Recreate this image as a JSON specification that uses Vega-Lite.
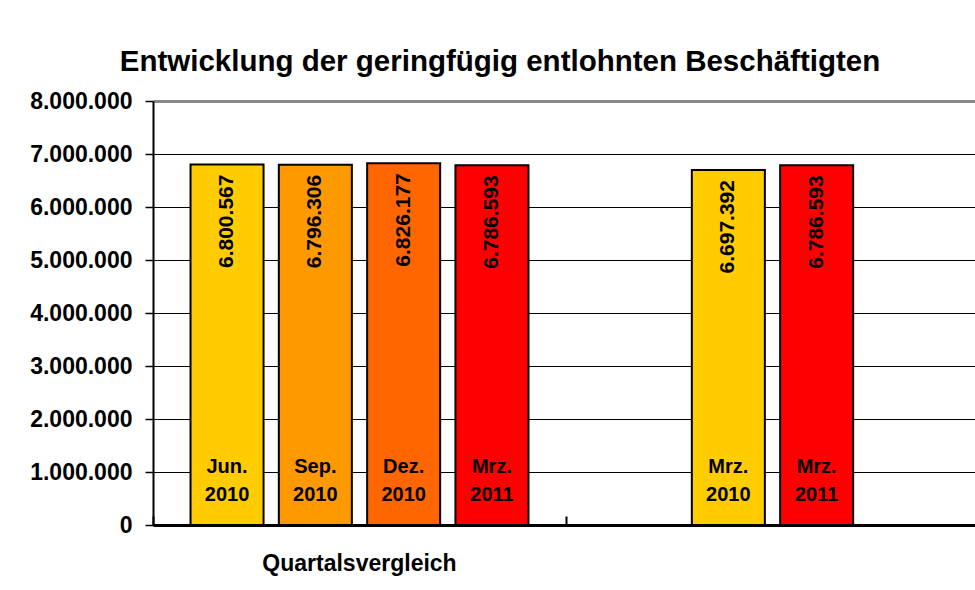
{
  "$schema": "https://vega.github.io/schema/vega-lite/v6.json",
  "autosize": "none",
  "padding": {"left": 153, "top": 101, "right": 0, "bottom": 65},
  "width": 826,
  "height": 424,
  "background": "white",
  "title": {
    "text": "Entwicklung der geringfügig entlohnten Beschäftigten",
    "fontSize": 29.5,
    "fontWeight": "bold",
    "font": "Liberation Sans",
    "color": "black",
    "anchor": "middle",
    "dx": -66,
    "offset": 13
  },
  "data": {
    "values": [
      {"gruppe": "Quartalsvergleich", "serie": "1", "zeitpunkt": "Jun. 2010", "wert": 6800567},
      {"gruppe": "Quartalsvergleich", "serie": "2", "zeitpunkt": "Sep. 2010", "wert": 6796306},
      {"gruppe": "Quartalsvergleich", "serie": "3", "zeitpunkt": "Dez. 2010", "wert": 6826177},
      {"gruppe": "Quartalsvergleich", "serie": "4", "zeitpunkt": "Mrz. 2011", "wert": 6786593},
      {"gruppe": "Vorjahresvergleich", "serie": "2", "zeitpunkt": "Mrz. 2010", "wert": 6697392},
      {"gruppe": "Vorjahresvergleich", "serie": "3", "zeitpunkt": "Mrz. 2011", "wert": 6786593}
    ]
  },
  "encoding": {
    "x": {
      "field": "gruppe",
      "type": "nominal",
      "sort": null,
      "scale": {"paddingInner": 0, "paddingOuter": 0},
      "axis": {
        "title": null,
        "labelExpr": "datum.value == 'Quartalsvergleich' ? datum.value : ''",
        "labelLimit": 0,
        "bandPosition": 0,
        "tickSize": -9,
        "tickColor": "black",
        "tickWidth": 2,
        "domainColor": "black",
        "domainWidth": 3,
        "labelFontSize": 23,
        "labelFontWeight": "bold",
        "labelPadding": 36,
        "labelAngle": 0,
        "grid": false
      }
    },
    "xOffset": {
      "field": "serie",
      "type": "nominal",
      "scale": {"domain": ["1", "2", "3", "4"], "paddingInner": 0.173, "paddingOuter": 0.425}
    }
  },
  "layer": [
    {
      "mark": {"type": "bar", "stroke": "black", "strokeWidth": 2},
      "encoding": {
        "y": {
          "field": "wert",
          "type": "quantitative",
          "scale": {"domain": [0, 8000000]},
          "axis": {
            "title": null,
            "values": [0, 1000000, 2000000, 3000000, 4000000, 5000000, 6000000, 7000000, 8000000],
            "format": ",d",
            "tickSize": 8,
            "tickColor": "black",
            "tickWidth": 1.5,
            "domainColor": "black",
            "domainWidth": 2,
            "labelFontSize": 23,
            "labelFontWeight": "bold",
            "labelPadding": 13,
            "grid": true,
            "gridColor": {"condition": {"test": "datum.value == 8000000", "value": "#888888"}, "value": "black"},
            "gridWidth": {"condition": {"test": "datum.value == 8000000", "value": 3}, "value": 1}
          }
        },
        "color": {
          "field": "zeitpunkt",
          "type": "nominal",
          "legend": null,
          "scale": {
            "domain": ["Jun. 2010", "Sep. 2010", "Dez. 2010", "Mrz. 2011", "Mrz. 2010"],
            "range": ["#FFCC00", "#FF9900", "#FF6600", "#FF0000", "#FFCC00"]
          }
        }
      }
    },
    {
      "mark": {"type": "text", "angle": 270, "align": "right", "baseline": "middle", "dx": -10, "fontSize": 21, "fontWeight": "bold"},
      "encoding": {
        "y": {"field": "wert", "type": "quantitative"},
        "text": {"field": "wert", "type": "quantitative", "format": ",d"}
      }
    },
    {
      "mark": {"type": "text", "baseline": "alphabetic", "dy": -52, "fontSize": 20, "fontWeight": "bold", "lineBreak": " ", "lineHeight": 28},
      "encoding": {
        "y": {"datum": 0, "type": "quantitative"},
        "text": {"field": "zeitpunkt", "type": "nominal"}
      }
    }
  ],
  "config": {
    "locale": {"number": {"decimal": ",", "thousands": ".", "grouping": [3], "currency": ["", " €"]}},
    "view": {"stroke": null},
    "font": "Liberation Sans",
    "axis": {"labelColor": "black", "labelFont": "Liberation Sans"},
    "text": {"font": "Liberation Sans", "color": "black"}
  }
}
